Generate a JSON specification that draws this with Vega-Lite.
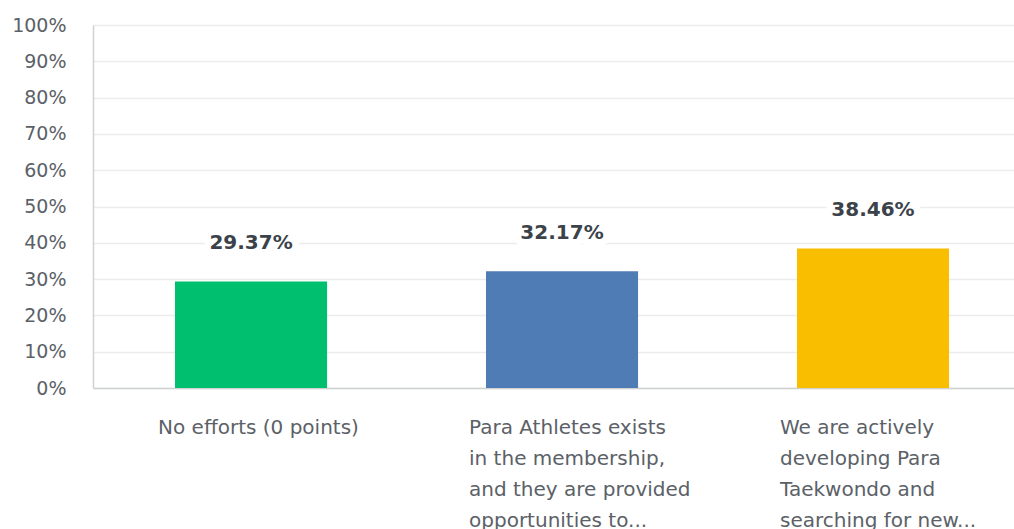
{
  "$schema": "https://vega.github.io/schema/vega-lite/v6.json",
  "autosize": "none",
  "width": 921,
  "height": 363,
  "padding": {"left": 93, "top": 25, "right": 0, "bottom": 141},
  "background": "white",
  "config": {"view": {"stroke": null}, "font": "DejaVu Sans", "axisY": {"labelOverlap": false}},
  "data": {
    "values": [
      {"answer": "No efforts (0 points)", "pct": 29.37, "color": "c1"},
      {"answer": "Para Athletes exists|in the membership,|and they are provided|opportunities to...", "pct": 32.17, "color": "c2"},
      {"answer": "We are actively|developing Para|Taekwondo and|searching for new...", "pct": 38.46, "color": "c3"}
    ]
  },
  "encoding": {
    "x": {
      "field": "answer", "type": "nominal", "sort": null,
      "scale": {"paddingInner": 0.511, "paddingOuter": 0.2363, "align": 0.558},
      "axis": {
        "title": null, "labelAngle": 0, "labelAlign": "left", "labelOffset": -93,
        "labelBaseline": "top", "labelPadding": 29, "labelLineHeight": 31,
        "labelExpr": "split(datum.label, '|')", "labelLimit": 400,
        "labelFontSize": 20, "labelColor": "#5b6167", "labelFont": "DejaVu Sans",
        "ticks": false, "domainColor": "#cfd1d3", "domainWidth": 1.5, "grid": false
      }
    },
    "y": {
      "field": "pct", "type": "quantitative",
      "scale": {"domain": [0, 100]},
      "axis": {
        "title": null, "values": [0,10,20,30,40,50,60,70,80,90,100],
        "labelOverlap": false,
        "labelExpr": "datum.value + '%'", "ticks": false, "labelPadding": 27,
        "labelFontSize": 19, "labelColor": "#5b6167", "labelFont": "DejaVu Sans",
        "domainColor": "#cfd1d3", "domainWidth": 1.5,
        "gridColor": "#ececec", "gridWidth": 1.5
      }
    }
  },
  "layer": [
    {
      "mark": {"type": "bar"},
      "encoding": {
        "color": {
          "field": "color", "type": "nominal", "legend": null,
          "scale": {"domain": ["c1","c2","c3"], "range": ["#00bf6f", "#507cb6", "#f9be00"]}
        }
      }
    },
    {
      "mark": {"type": "text", "baseline": "middle", "dy": -38, "fontSize": 20, "fontWeight": "bold", "color": "white", "stroke": "white", "strokeWidth": 14, "strokeJoin": "round", "font": "DejaVu Sans", "text": {"expr": "format(datum.pct, '.2f') + '%'"}},
      "encoding": {}
    },
    {
      "mark": {"type": "text", "baseline": "middle", "dy": -38, "fontSize": 20, "fontWeight": "bold", "color": "#3b4249", "font": "DejaVu Sans", "text": {"expr": "format(datum.pct, '.2f') + '%'"}},
      "encoding": {}
    }
  ]
}
